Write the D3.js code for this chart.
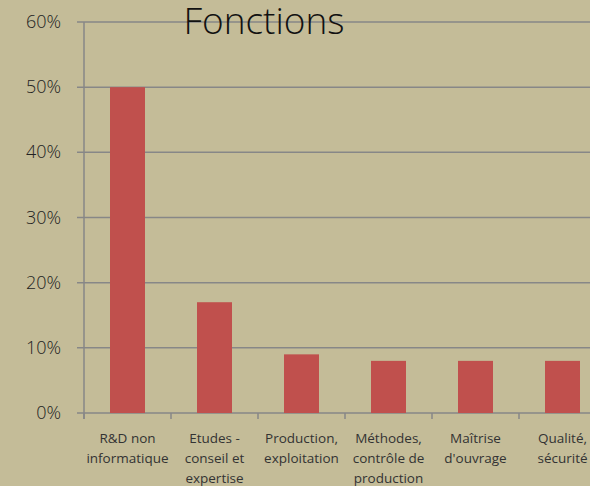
<!DOCTYPE html>
<html><head><meta charset="utf-8">
<script src="https://cdn.jsdelivr.net/npm/d3@7"></script>
<style>html,body{margin:0;padding:0;background:#c4bc98;overflow:hidden}</style>
</head><body>
<script>
const categories = [["R&D non","informatique"],["Etudes -","conseil et","expertise"],["Production,","exploitation"],["Méthodes,","contrôle de","production"],["Maîtrise","d'ouvrage"],["Qualité,","sécurité"]];
const values = [0.50, 0.17, 0.09, 0.08, 0.08, 0.08];
const yTicks = [0, 0.1, 0.2, 0.3, 0.4, 0.5, 0.6];
const title = "Fonctions";

const W = 590, H = 486;
const svg = d3.select("body").append("svg").attr("width", W).attr("height", H);
svg.append("rect").attr("width", W).attr("height", H).attr("fill", "#c4bc98");

const x0 = 84, bandW = 87;
const x = d3.scaleBand().domain(d3.range(categories.length)).range([x0, x0 + bandW * categories.length]).paddingInner(0).paddingOuter(0);
const y = d3.scaleLinear().domain([0, 0.6]).range([413, 22]);
const grid = "#878787";
const font = "'Open Sans', 'Segoe UI', sans-serif";

// gridlines
svg.append("g").selectAll("line").data(yTicks).join("line")
  .attr("x1", 77).attr("x2", W).attr("y1", d => y(d)).attr("y2", d => y(d))
  .attr("stroke", grid).attr("stroke-width", 1.5);

// y axis line
svg.append("line").attr("x1", x0).attr("x2", x0).attr("y1", y(0.6)).attr("y2", y(0)+6)
  .attr("stroke", grid).attr("stroke-width", 1.5);

// x ticks
svg.append("g").selectAll("line").data(d3.range(categories.length + 1)).join("line")
  .attr("x1", i => x0 + i * bandW).attr("x2", i => x0 + i * bandW)
  .attr("y1", y(0)).attr("y2", y(0) + 6).attr("stroke", grid).attr("stroke-width", 1.5);

// bars
const bw = 35;
svg.append("g").selectAll("rect").data(values).join("rect")
  .attr("x", (d, i) => x(i) + x.bandwidth() / 2 - bw / 2)
  .attr("width", bw)
  .attr("y", d => y(d))
  .attr("height", d => y(0) - y(d))
  .attr("fill", "#c0504d");

// y labels
svg.append("g").selectAll("text").data(yTicks).join("text")
  .attr("x", 61).attr("y", d => y(d) + 6)
  .attr("text-anchor", "end")
  .attr("font-family", font).attr("font-weight", 300).attr("font-size", 18)
  .attr("fill", "#222")
  .text(d => d3.format(".0%")(d));

// category labels
const cg = svg.append("g");
categories.forEach((lines, i) => {
  const t = cg.append("text").attr("text-anchor", "middle")
    .attr("font-family", font).attr("font-size", 13.5).attr("fill", "#333");
  lines.forEach((l, j) => {
    t.append("tspan").attr("x", x(i) + x.bandwidth() / 2).attr("y", 443 + j * 20).text(l);
  });
});

// title
svg.append("text").attr("x", 264).attr("y", 34).attr("text-anchor", "middle")
  .attr("font-family", font).attr("font-weight", 300).attr("font-size", 37)
  .attr("fill", "#111").text(title);
</script>
</body></html>
